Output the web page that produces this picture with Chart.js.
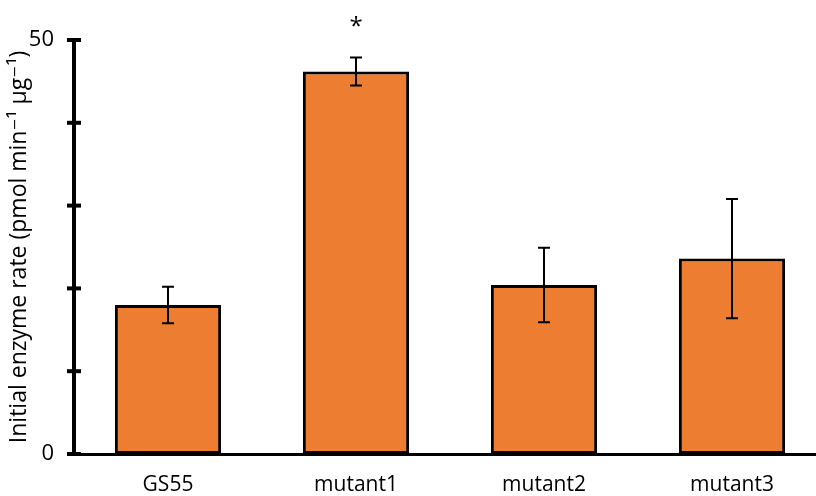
<!DOCTYPE html>
<html>
<head>
<meta charset="utf-8">
<script src="https://cdn.jsdelivr.net/npm/chart.js@4"></script>
<style>
  html, body { margin: 0; padding: 0; background: #fff; overflow: hidden; }
  #wrap { width: 826px; height: 496px; position: relative; }
</style>
</head>
<body>
<div id="wrap"><canvas id="rateChart"></canvas></div>
<script>
// values
const categories = ['GS55', 'mutant1', 'mutant2', 'mutant3'];
const rates = [18.0, 46.2, 20.4, 23.6];
const errors = [2.2, 1.7, 4.5, 7.2];
const marks = ['', '*', '', ''];
const labelledTicks = [0, 50];

const FONT = '"Open Sans", "DejaVu Sans", sans-serif';

// error bars, cross ticks on the y axis and the significance star
const extras = {
  id: 'extras',
  afterDatasetsDraw(chart) {
    const ctx = chart.ctx;
    const y = chart.scales.y;
    const meta = chart.getDatasetMeta(0);
    ctx.save();
    ctx.strokeStyle = '#000';
    ctx.lineWidth = 2;
    meta.data.forEach((bar, i) => {
      const hi = y.getPixelForValue(rates[i] + errors[i]);
      const lo = y.getPixelForValue(rates[i] - errors[i]);
      ctx.beginPath();
      ctx.moveTo(bar.x, hi); ctx.lineTo(bar.x, lo);
      ctx.moveTo(bar.x - 6, hi); ctx.lineTo(bar.x + 6, hi);
      ctx.moveTo(bar.x - 6, lo); ctx.lineTo(bar.x + 6, lo);
      ctx.stroke();
      if (marks[i]) {
        ctx.fillStyle = '#000';
        ctx.font = '24px ' + FONT;
        ctx.textAlign = 'center';
        ctx.textBaseline = 'middle';
        ctx.fillText(marks[i], bar.x, hi - 30);
      }
    });
    // tick marks crossing the axis
    const ax = chart.chartArea.left;
    ctx.lineWidth = 4;
    y.ticks.forEach(t => {
      const py = y.getPixelForValue(t.value);
      ctx.beginPath();
      ctx.moveTo(ax - 7, py); ctx.lineTo(ax + 7, py);
      ctx.stroke();
    });
    ctx.restore();
  }
};

new Chart(document.getElementById('rateChart'), {
  type: 'bar',
  data: {
    labels: categories,
    datasets: [{
      data: rates,
      backgroundColor: '#ED7D31',
      borderColor: '#000',
      borderWidth: 3,
      borderSkipped: false,
      barPercentage: 0.565,
      categoryPercentage: 1
    }]
  },
  options: {
    responsive: true,
    maintainAspectRatio: false,
    animation: false,
    layout: { padding: { top: 40, right: 0, bottom: 0, left: 0 } },
    plugins: { legend: { display: false }, tooltip: { enabled: false } },
    scales: {
      x: {
        grid: { display: false, drawTicks: false },
        border: { display: true, color: '#000', width: 3 },
        ticks: { color: '#000', font: { family: FONT, size: 21 }, padding: 18 },
        afterFit(scale) { scale.height = 42; }
      },
      y: {
        min: 0,
        max: 50,
        grid: { display: false, drawTicks: false },
        border: { display: true, color: '#000', width: 4 },
        ticks: {
          stepSize: 10,
          color: '#000',
          font: { family: FONT, size: 22 },
          padding: 20,
          callback: v => labelledTicks.includes(v) ? String(v) : ''
        },
        title: {
          display: true,
          text: 'Initial enzyme rate (pmol min⁻¹ µg⁻¹)',
          color: '#000',
          font: { family: FONT, size: 23 },
          padding: { top: 6, bottom: 0 }
        },
        afterFit(scale) { scale.width = 74; }
      }
    }
  },
  plugins: [extras]
});
</script>
</body>
</html>
